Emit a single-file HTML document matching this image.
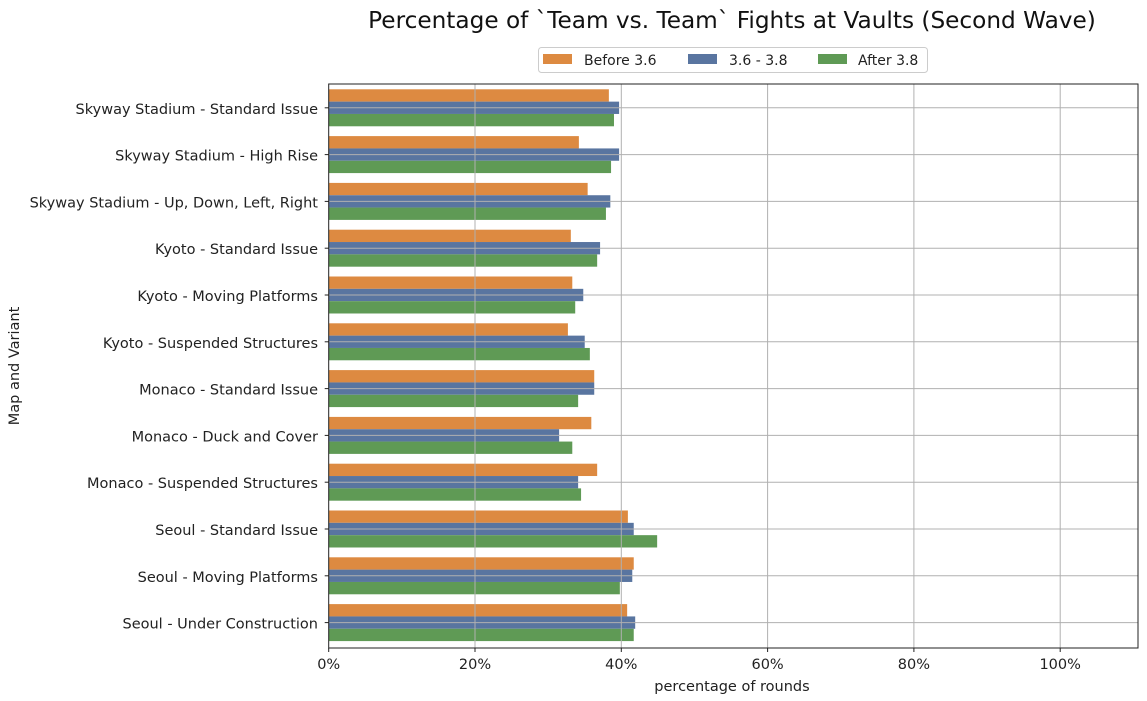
<!DOCTYPE html>
<html><head><meta charset="utf-8"><style>body{margin:0;background:#fff}svg{display:block;font-family:"DejaVu Sans","Liberation Sans",sans-serif}</style></head>
<body>
<svg width="1147" height="701" viewBox="0 0 1147 701" xmlns="http://www.w3.org/2000/svg">
<text x="732" y="28" font-size="23.2" text-anchor="middle" fill="#111">Percentage of `Team vs. Team` Fights at Vaults (Second Wave)</text>
<rect x="538.5" y="47.5" width="389" height="25" rx="3" fill="#fff" stroke="#ccc"/>
<rect x="543" y="54" width="29" height="10" fill="#dd8a41"/><text x="584" y="65" font-size="14" fill="#222">Before 3.6</text>
<rect x="688" y="54" width="29" height="10" fill="#5975a0"/><text x="729" y="65" font-size="14" fill="#222">3.6 - 3.8</text>
<rect x="818" y="54" width="29" height="10" fill="#5f9a55"/><text x="858" y="65" font-size="14" fill="#222">After 3.8</text>
<g id="bars"></g>
<g id="grid" stroke="#b0b0b0" stroke-width="1"></g>
<rect x="328.7" y="84" width="809.3" height="564" fill="none" stroke="#222" stroke-width="1"/>
<g id="lab" font-size="14.5" fill="#222"></g>
<text x="732" y="691" font-size="14.5" text-anchor="middle" fill="#222">percentage of rounds</text>
<text transform="translate(19,366) rotate(-90)" font-size="14.5" text-anchor="middle" fill="#222">Map and Variant</text>
</svg>
<script>
const ns="http://www.w3.org/2000/svg";
const names=["Skyway Stadium - Standard Issue","Skyway Stadium - High Rise","Skyway Stadium - Up, Down, Left, Right","Kyoto - Standard Issue","Kyoto - Moving Platforms","Kyoto - Suspended Structures","Monaco - Standard Issue","Monaco - Duck and Cover","Monaco - Suspended Structures","Seoul - Standard Issue","Seoul - Moving Platforms","Seoul - Under Construction"];
const v=[[38.3,39.7,39.0],[34.2,39.7,38.6],[35.4,38.5,37.9],[33.1,37.1,36.7],[33.3,34.8,33.7],[32.7,35.0,35.7],[36.3,36.3,34.1],[35.9,31.5,33.3],[36.7,34.1,34.5],[40.9,41.7,44.9],[41.7,41.5,39.8],[40.8,41.9,41.7]];
const col=["#dd8a41","#5975a0","#5f9a55"];
const x0=328.7,k=7.315;
const B=document.getElementById("bars"),G=document.getElementById("grid"),L=document.getElementById("lab");
function el(t,a,p,txt){const e=document.createElementNS(ns,t);for(const q in a)e.setAttribute(q,a[q]);if(txt)e.textContent=txt;p.appendChild(e);return e;}
for(let i=0;i<12;i++){const c=107.8+i*46.8;
 for(let j=0;j<3;j++){el("rect",{x:x0,y:c-18.5+j*12.33,width:v[i][j]*k,height:12.33,fill:col[j]},B);}
 el("line",{x1:x0,x2:1138,y1:c,y2:c},G);
 el("line",{x1:x0-4,x2:x0,y1:c,y2:c,stroke:"#222"},L);
 el("text",{x:318,y:c+6,"text-anchor":"end"},L,names[i]);}
for(let p=0;p<=100;p+=20){const x=x0+p*k;if(p>0)el("line",{x1:x,x2:x,y1:84,y2:648},G);
 el("line",{x1:x,x2:x,y1:648,y2:652,stroke:"#222"},L);
 el("text",{x:x,y:669,"text-anchor":"middle"},L,p+"%");}
</script>
</body></html>
